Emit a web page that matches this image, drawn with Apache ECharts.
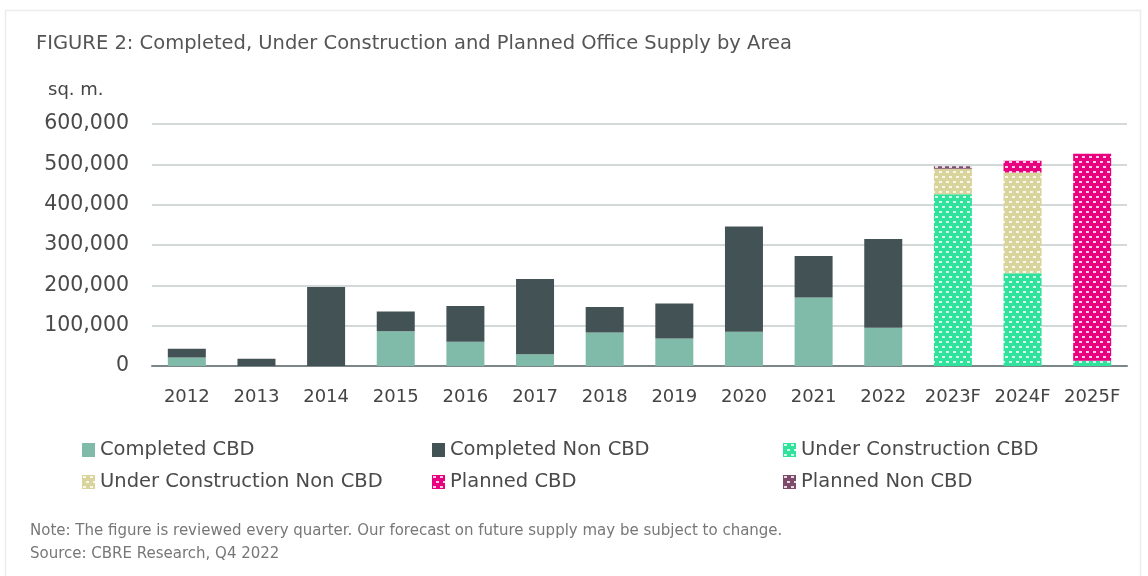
<!DOCTYPE html>
<html>
<head>
<meta charset="utf-8">
<script src="https://cdn.jsdelivr.net/npm/echarts@6/dist/echarts.min.js"></script>
<style>
  html, body { margin: 0; padding: 0; background: #fff; }
  #chart { width: 1148px; height: 576px; }
</style>
</head>
<body>
<div id="chart"></div>
<script>
// data (sq. m.)
const categories = ['2012', '2013', '2014', '2015', '2016', '2017', '2018', '2019', '2020', '2021', '2022', '2023F', '2024F', '2025F']
const completedCBD = [21000, 0, 0, 86000, 60000, 29000, 83000, 68000, 85000, 170000, 95000, 0, 0, 0]
const completedNonCBD = [22000, 18000, 196000, 49000, 89000, 187000, 63000, 87000, 261000, 103000, 220000, 0, 0, 0]
const ucCBD = [0, 0, 0, 0, 0, 0, 0, 0, 0, 0, 0, 426000, 230000, 13000]
const ucNonCBD = [0, 0, 0, 0, 0, 0, 0, 0, 0, 0, 0, 63000, 250000, 0]
const plannedCBD = [0, 0, 0, 0, 0, 0, 0, 0, 0, 0, 0, 0, 29000, 513000]
const plannedNonCBD = [0, 0, 0, 0, 0, 0, 0, 0, 0, 0, 0, 6000, 0, 0]
const yTicks = [0, 100000, 200000, 300000, 400000, 500000, 600000]

const FONT = 'DejaVu Sans'

// dotted fill like the source (white dashes on colour)
function pattern(bg) {
  const c = document.createElement('canvas')
  c.width = 7
  c.height = 10
  const ctx = c.getContext('2d')
  ctx.fillStyle = bg
  ctx.fillRect(0, 0, 7, 10)
  ctx.fillStyle = 'rgba(255,255,255,0.8)'
  ctx.fillRect(1, 1, 3, 2)
  ctx.fillRect(4, 6, 3, 2)
  return { image: c, repeat: 'repeat' }
}

function bar(name, data, color) {
  return {
    name: name,
    type: 'bar',
    stack: 'total',
    barWidth: 38,
    data: data.map(v => (v === 0 ? null : v)),
    itemStyle: { color: color }
  }
}

const chart = echarts.init(document.getElementById('chart'))

const legendText = { fontFamily: FONT, fontSize: 19.5, color: '#4a4a4a' }
function legendCol(left, names) {
  return {
    orient: 'vertical',
    left: left,
    top: 435,
    itemWidth: 13,
    itemHeight: 14,
    itemGap: 12,
    icon: 'rect',
    textStyle: legendText,
    data: names
  }
}

chart.setOption({
  animation: false,
  graphic: [{
    type: 'rect',
    shape: { x: 5.5, y: 10.5, width: 1135, height: 600 },
    style: { fill: 'none', stroke: '#ececec', lineWidth: 1.5 }
  }],
  title: [
    {
      text: 'FIGURE 2: Completed, Under Construction and Planned Office Supply by Area',
      left: 31, top: 29,
      textStyle: { fontFamily: FONT, fontSize: 19.5, fontWeight: 'normal', color: '#555' }
    },
    {
      text: 'sq. m.',
      left: 43, top: 76,
      textStyle: { fontFamily: FONT, fontSize: 18, fontWeight: 'normal', color: '#444' }
    },
    {
      text: 'Note: The figure is reviewed every quarter. Our forecast on future supply may be subject to change.\nSource: CBRE Research, Q4 2022',
      left: 25, top: 515,
      textStyle: { fontFamily: FONT, fontSize: 15, fontWeight: 'normal', color: '#777', lineHeight: 23 }
    }
  ],
  legend: [
    legendCol(77, ['Completed CBD', 'Under Construction Non CBD']),
    legendCol(427, ['Completed Non CBD', 'Planned CBD']),
    legendCol(778, ['Under Construction CBD', 'Planned Non CBD'])
  ],
  grid: { left: 152, right: 21, top: 124, bottom: 210 },
  xAxis: {
    type: 'category',
    data: categories,
    axisTick: { show: false },
    axisLine: { lineStyle: { color: '#7c8688', width: 2 } },
    axisLabel: { fontFamily: FONT, fontSize: 18, color: '#444', margin: 22, interval: 0 }
  },
  yAxis: {
    type: 'value',
    min: yTicks[0],
    max: yTicks[yTicks.length - 1],
    interval: yTicks[1] - yTicks[0],
    axisLabel: {
      fontFamily: FONT, fontSize: 20.5, color: '#4a4a4a', margin: 23,
      formatter: v => v.toLocaleString('en-US')
    },
    splitLine: { lineStyle: { color: '#d3d8d9', width: 2 } }
  },
  series: [
    bar('Completed CBD', completedCBD, '#80baa9'),
    bar('Completed Non CBD', completedNonCBD, '#435255'),
    bar('Under Construction CBD', ucCBD, pattern('#2fe39c')),
    bar('Under Construction Non CBD', ucNonCBD, pattern('#d9d49c')),
    bar('Planned CBD', plannedCBD, pattern('#e8007f')),
    bar('Planned Non CBD', plannedNonCBD, pattern('#7d4a6c'))
  ]
})
</script>
</body>
</html>
